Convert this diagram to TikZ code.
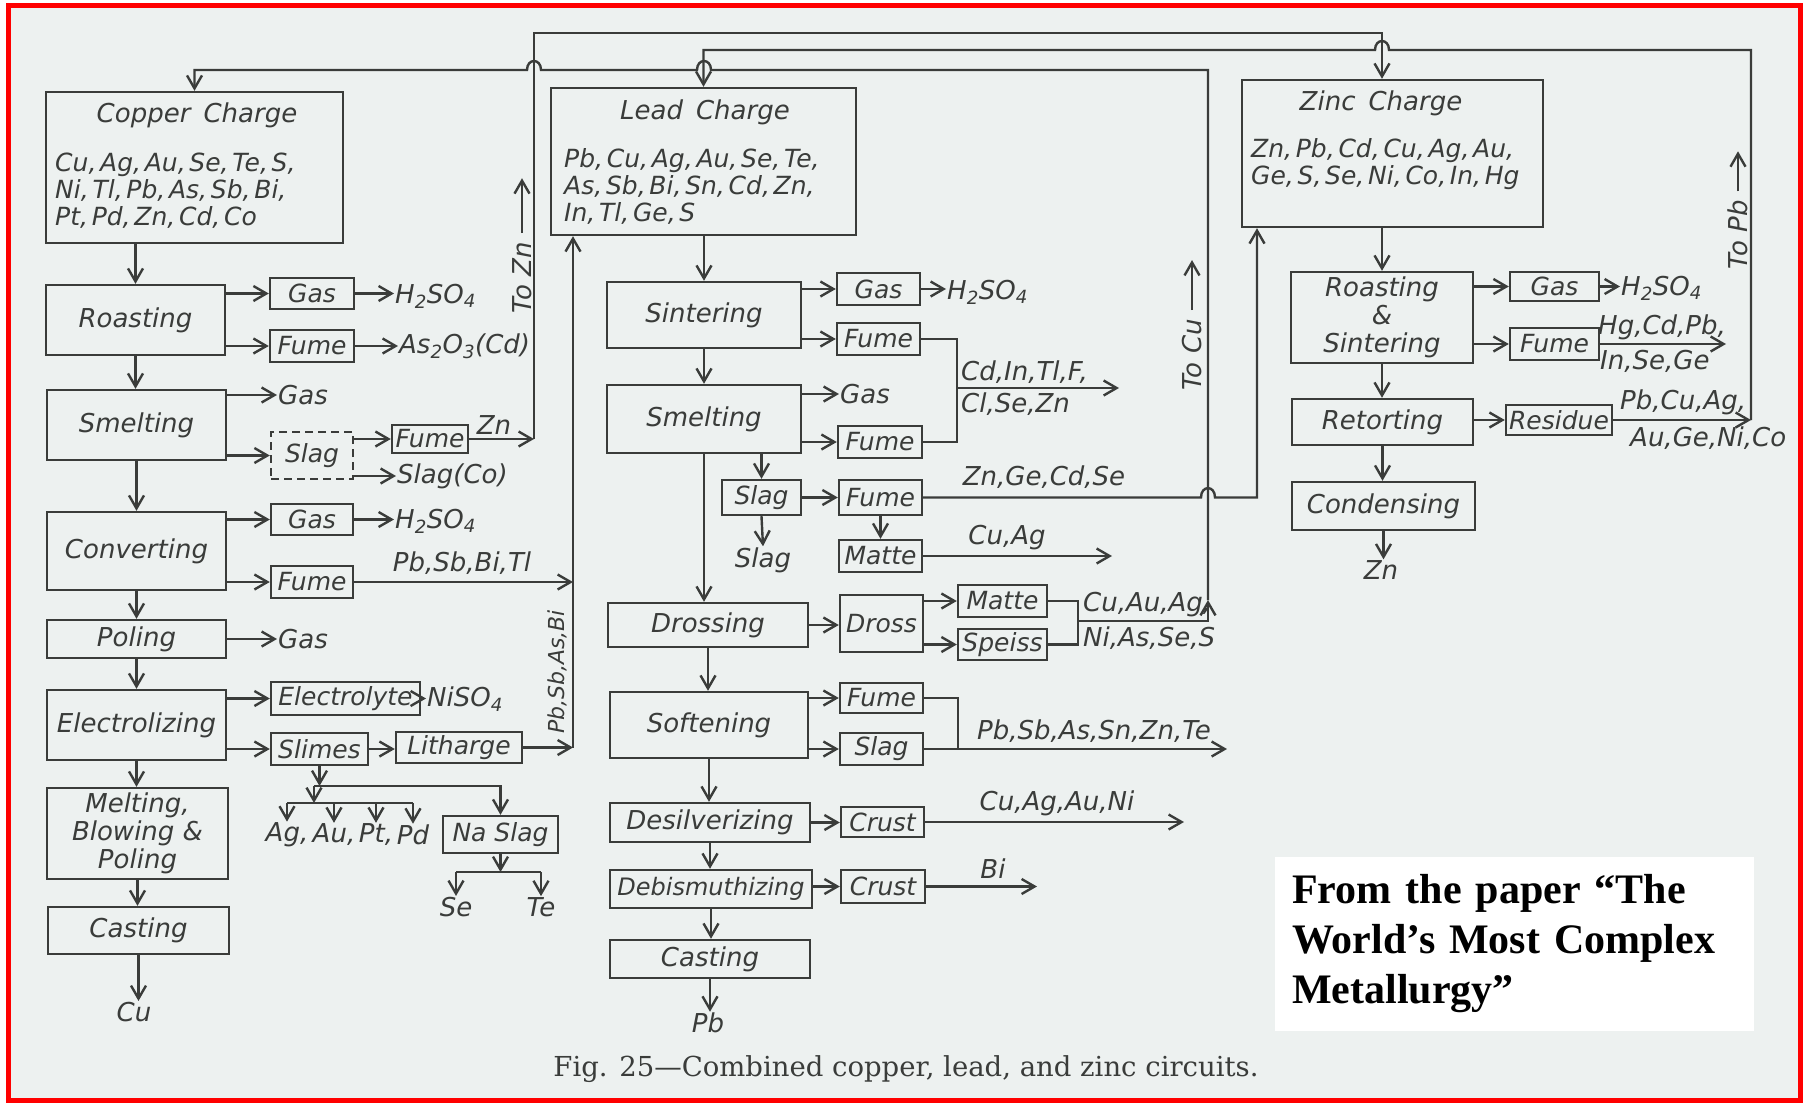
\documentclass[tikz,border=0pt]{standalone}
\usepackage{xcolor}
\usepackage{fontspec}
\usepackage{tikz}
\usetikzlibrary{arrows.meta, calc}
\newfontfamily\letterfont{DejaVu Sans}
\newfontfamily\captionfont{DejaVu Serif}
\newfontfamily\notefont{Liberation Serif}
\definecolor{myink}{RGB}{58,60,58}
\definecolor{mypaper}{RGB}{237,241,240}
\definecolor{myred}{RGB}{255,0,0}
\tikzset{
  block/.style={rectangle, draw=myink, line width=2.4pt, inner sep=0pt,
    align=center, text=myink, font=\letterfont\itshape\fontsize{26}{28}\selectfont},
  sidebox/.style={block, font=\letterfont\itshape\fontsize{25}{27}\selectfont},
  dashblock/.style={sidebox, dash pattern=on 8pt off 5pt},
  lbl/.style={inner sep=1pt, text=myink, font=\letterfont\itshape\fontsize{26}{28}\selectfont},
  listlbl/.style={lbl, align=left, font=\letterfont\itshape\fontsize{25}{27}\selectfont,
    execute at begin node={\spaceskip=0.15em\relax}},
  arrow/.style={-{Straight Barb[length=13pt,width=15pt]}, line width=2.4pt, color=myink},
  line/.style={line width=2.4pt, color=myink}
}
\begin{document}
\begin{tikzpicture}[x=1pt, y=-1pt]
  % Page and frame
  \useasboundingbox (0,0) rectangle (1805,1103);
  \fill[mypaper] (8,5) rectangle (1800,1100);
  \draw[myred, line width=5pt] (8,5) rectangle (1800,1100);

  % Copper circuit
  \node[block, minimum width=297pt, minimum height=151pt] (cuCharge) at (194.5,167.5) {};
  \node[lbl] (cuTitle) at (197,115) {Copper\enspace Charge};
  \node[listlbl, anchor=west] (cuList) at (54,191) {Cu, Ag, Au, Se, Te, S,\\Ni, Tl, Pb, As, Sb, Bi,\\Pt, Pd, Zn, Cd, Co};
  \node[block, minimum width=179pt, minimum height=70pt] (cuRoast) at (135.5,320) {Roasting};
  \node[sidebox, minimum width=84pt, minimum height=31pt] (cuRoastGas) at (312,293.5) {Gas};
  \node[sidebox, minimum width=84pt, minimum height=32pt] (cuRoastFume) at (312,346) {Fume};
  \node[lbl, anchor=west] (cuRoastAcid) at (394,296) {H\textsubscript{2}SO\textsubscript{4}};
  \node[lbl, anchor=west] (cuRoastAs) at (398,346) {As\textsubscript{2}O\textsubscript{3}(Cd)};
  \node[lbl, rotate=90] (toZn) at (522,278) {To Zn};
  \node[block, minimum width=179pt, minimum height=70pt] (cuSmelt) at (136.5,425) {Smelting};
  \node[lbl, anchor=west] (cuSmeltGas) at (277,395) {Gas};
  \node[dashblock, minimum width=82pt, minimum height=47pt] (cuSlag) at (312,455.5) {Slag};
  \node[sidebox, minimum width=76pt, minimum height=28pt] (cuSlagFume) at (430,439) {Fume};
  \node[lbl] (cuZn) at (494,425) {Zn};
  \node[lbl, anchor=west] (cuSlagCo) at (396,476) {Slag(Co)};
  \node[block, minimum width=179pt, minimum height=78pt] (cuConvert) at (136.5,551) {Converting};
  \node[sidebox, minimum width=82pt, minimum height=31pt] (cuConvGas) at (312,519.5) {Gas};
  \node[sidebox, minimum width=82pt, minimum height=32pt] (cuConvFume) at (312,582) {Fume};
  \node[lbl, anchor=west] (cuConvAcid) at (394,521) {H\textsubscript{2}SO\textsubscript{4}};
  \node[lbl] (cuConvOut) at (462,563) {Pb,Sb,Bi,Tl};
  \node[block, minimum width=179pt, minimum height=38pt] (cuPoling) at (136.5,639) {Poling};
  \node[lbl, anchor=west] (cuPolingGas) at (277,639) {Gas};
  \node[block, minimum width=179pt, minimum height=70pt] (cuElectro) at (136.5,725) {Electrolizing};
  \node[sidebox, minimum width=149pt, minimum height=33pt] (cuElectrolyte) at (345.5,698.5) {Electrolyte};
  \node[lbl, anchor=west] (cuNiSO) at (426,699) {NiSO\textsubscript{4}};
  \node[sidebox, minimum width=97pt, minimum height=32pt] (cuSlimes) at (319.5,749) {Slimes};
  \node[sidebox, minimum width=126pt, minimum height=31pt] (cuLitharge) at (459,747.5) {Litharge};
  \node[lbl, rotate=90, font=\letterfont\itshape\fontsize{22}{24}\selectfont] (cuLithOut) at (557,672) {Pb,Sb,As,Bi};
  \node[block, minimum width=181pt, minimum height=91pt] (cuMelt) at (137.5,833.5) {Melting,\\Blowing \&\\Poling};
  \node[block, minimum width=181pt, minimum height=47pt] (cuCast) at (138.5,930.5) {Casting};
  \node[lbl] (cuCopper) at (134,1012) {Cu};
  \node[lbl] (cuAg) at (287,835) {Ag,};
  \node[lbl] (cuAu) at (334,835) {Au,};
  \node[lbl] (cuPt) at (376,835) {Pt,};
  \node[lbl] (cuPd) at (413,835) {Pd};
  \node[sidebox, minimum width=115pt, minimum height=37pt] (cuNaSlag) at (500.5,834.5) {Na Slag};
  \node[lbl] (cuSe) at (456,907) {Se};
  \node[lbl] (cuTe) at (541,907) {Te};
  \coordinate (zincLine) at (534,439);
  \coordinate (pbRise) at (573,747.5);
  \coordinate (slimesForkA) at (314,786);
  \coordinate (slimesForkB) at (314,803);
  \coordinate (naFork) at (500.5,872);

  \draw[arrow] (cuCharge.south -| cuRoast.north) -- (cuRoast.north);
  \draw[arrow] (cuRoast.east |- cuRoastGas.west) -- (cuRoastGas.west);
  \draw[arrow] (cuRoast.east |- cuRoastFume.west) -- (cuRoastFume.west);
  \draw[arrow] (cuRoastGas.east) -- (cuRoastGas.east -| cuRoastAcid.west);
  \draw[arrow] (cuRoastFume.east) -- (cuRoastFume.east -| cuRoastAs.west);
  \draw[arrow] ([yshift=8pt]toZn.east) -- ++(0,-55);
  \draw[arrow] (cuRoast.south) -- (cuRoast.south |- cuSmelt.north);
  \draw[arrow] (cuSmelt.east |- cuSmeltGas.west) -- (cuSmeltGas.west);
  \draw[arrow] (cuSmelt.east |- cuSlag.west) -- (cuSlag.west);
  \draw[arrow] (cuSlag.east |- cuSlagFume.west) -- (cuSlagFume.west);
  \draw[arrow] (cuSlag.east |- cuSlagCo.west) -- (cuSlagCo.west);
  \draw[arrow] (cuSlagFume.east) -- (zincLine);
  \draw[arrow] (cuSmelt.south) -- (cuSmelt.south |- cuConvert.north);
  \draw[arrow] (cuConvert.east |- cuConvGas.west) -- (cuConvGas.west);
  \draw[arrow] (cuConvert.east |- cuConvFume.west) -- (cuConvFume.west);
  \draw[arrow] (cuConvGas.east) -- (cuConvGas.east -| cuConvAcid.west);
  \draw[arrow] (cuConvFume.east) -- (cuConvFume.east -| pbRise);
  \draw[arrow] (cuConvert.south) -- (cuConvert.south |- cuPoling.north);
  \draw[arrow] (cuPoling.east) -- (cuPoling.east -| cuPolingGas.west);
  \draw[arrow] (cuPoling.south) -- (cuPoling.south |- cuElectro.north);
  \draw[arrow] (cuElectro.east |- cuElectrolyte.west) -- (cuElectrolyte.west);
  \draw[arrow] (cuElectro.east |- cuSlimes.west) -- (cuSlimes.west);
  \draw[arrow] (cuElectrolyte.east) -- (cuElectrolyte.east -| cuNiSO.west);
  \draw[arrow] (cuSlimes.east) -- (cuSlimes.east -| cuLitharge.west);
  \draw[arrow] (cuLitharge.east) -- (pbRise);
  \draw[arrow] (cuElectro.south) -- (cuElectro.south |- cuMelt.north);
  \draw[arrow] (cuMelt.south) -- (cuMelt.south |- cuCast.north);
  \draw[arrow] (cuCast.south) -- (cuCast.south |- cuCopper.north);
  % Slimes and soda slag splits
  \draw[arrow] (cuSlimes.south) -- (cuSlimes.south |- slimesForkA);
  \draw[arrow] (slimesForkA) -| (cuNaSlag.north);
  \draw[arrow] (slimesForkA) -- (slimesForkB);
  \draw[line] (slimesForkB -| cuAg.north) -- (slimesForkB -| cuPd.north);
  \foreach \m in {cuAg,cuAu,cuPt,cuPd}
    \draw[arrow] (slimesForkB -| \m.north) -- (\m.north);
  \draw[arrow] (cuNaSlag.south) -- (naFork);
  \draw[line] (naFork -| cuSe.north) -- (naFork -| cuTe.north);
  \foreach \m in {cuSe,cuTe}
    \draw[arrow] (naFork -| \m.north) -- (\m.north);

  % Lead circuit
  \node[block, minimum width=305pt, minimum height=147pt] (pbCharge) at (703.5,161.5) {};
  \node[lbl] (pbTitle) at (705,112) {Lead\enspace Charge};
  \node[listlbl, anchor=west] (pbList) at (563,186) {Pb, Cu, Ag, Au, Se, Te,\\As, Sb, Bi, Sn, Cd, Zn,\\In, Tl, Ge, S};
  \node[block, minimum width=194pt, minimum height=66pt] (pbSinter) at (704,315) {Sintering};
  \node[sidebox, minimum width=83pt, minimum height=32pt] (pbSintGas) at (878.5,289) {Gas};
  \node[sidebox, minimum width=83pt, minimum height=32pt] (pbSintFume) at (878.5,339) {Fume};
  \node[lbl, anchor=west] (pbSintAcid) at (946,292) {H\textsubscript{2}SO\textsubscript{4}};
  \node[block, minimum width=194pt, minimum height=68pt] (pbSmelt) at (704,419) {Smelting};
  \node[lbl, anchor=west] (pbSmeltGas) at (839,394) {Gas};
  \node[sidebox, minimum width=84pt, minimum height=32pt] (pbSmeltFume) at (880,442) {Fume};
  \node[lbl, anchor=west] (pbFumeUp) at (960,372) {Cd,In,Tl,F,};
  \node[lbl, anchor=west] (pbFumeDn) at (960,404) {Cl,Se,Zn};
  \node[sidebox, minimum width=79pt, minimum height=35pt] (pbSlag) at (761.5,497.5) {Slag};
  \node[sidebox, minimum width=83pt, minimum height=35pt] (pbSlagFume) at (880.5,497.5) {Fume};
  \node[lbl] (pbSlagOut) at (763,560) {Slag};
  \node[lbl] (pbZnGe) at (1044,477) {Zn,Ge,Cd,Se};
  \node[sidebox, minimum width=83pt, minimum height=32pt] (pbMatte) at (880.5,556) {Matte};
  \node[lbl] (pbMatteOut) at (1007,538) {Cu,Ag};
  \node[block, minimum width=200pt, minimum height=44pt] (pbDrossing) at (708,625) {Drossing};
  \node[sidebox, minimum width=83pt, minimum height=57pt] (pbDross) at (881.5,623.5) {Dross};
  \node[sidebox, minimum width=89pt, minimum height=32pt] (pbMatteB) at (1002.5,601) {Matte};
  \node[sidebox, minimum width=89pt, minimum height=31pt] (pbSpeiss) at (1002.5,644.5) {Speiss};
  \node[lbl, anchor=west] (pbDrossUp) at (1082,605) {Cu,Au,Ag,};
  \node[lbl, anchor=west] (pbDrossDn) at (1082,638) {Ni,As,Se,S};
  \node[block, minimum width=198pt, minimum height=66pt] (pbSoften) at (709,725) {Softening};
  \node[sidebox, minimum width=83pt, minimum height=30pt] (pbSoftFume) at (881.5,698) {Fume};
  \node[sidebox, minimum width=83pt, minimum height=32pt] (pbSoftSlag) at (881.5,749) {Slag};
  \node[lbl] (pbSoftOut) at (1094,731) {Pb,Sb,As,Sn,Zn,Te};
  \node[block, minimum width=200pt, minimum height=39pt] (pbDesilv) at (710,822.5) {Desilverizing};
  \node[sidebox, minimum width=83pt, minimum height=30pt] (pbDesilvCrust) at (882.5,822) {Crust};
  \node[lbl] (pbDesilvOut) at (1057,803) {Cu,Ag,Au,Ni};
  \node[block, minimum width=202pt, minimum height=38pt, font=\letterfont\itshape\fontsize{24}{26}\selectfont] (pbDebism) at (711,889) {Debismuthizing};
  \node[sidebox, minimum width=84pt, minimum height=33pt] (pbDebismCrust) at (883,886.5) {Crust};
  \node[lbl] (pbDebismOut) at (993,869) {Bi};
  \node[block, minimum width=200pt, minimum height=38pt] (pbCast) at (710,959) {Casting};
  \node[lbl] (pbLead) at (708,1023) {Pb};
  \node[lbl, rotate=90] (toCu) at (1192,355) {To Cu};
  \coordinate (pbFumeJoin) at (957,388);
  \coordinate (pbFumeEnd) at (1119,388);
  \coordinate (pbMatteEnd) at (1112,556);
  \coordinate (drossJoin) at (1078,621);
  \coordinate (copperLine) at (1208,600);
  \coordinate (pbSoftJoin) at (958,749);
  \coordinate (pbSoftEnd) at (1227,749);
  \coordinate (pbDesilvEnd) at (1184,822);
  \coordinate (pbDebismEnd) at (1037,886.5);
  \coordinate (zincRise) at (1257,497.5);

  \draw[arrow] (pbRise) -- (pbRise |- pbCharge.south);
  \draw[arrow] (pbSinter.north |- pbCharge.south) -- (pbSinter.north);
  \draw[arrow] (pbSinter.east |- pbSintGas.west) -- (pbSintGas.west);
  \draw[arrow] (pbSinter.east |- pbSintFume.west) -- (pbSintFume.west);
  \draw[arrow] (pbSintGas.east) -- (pbSintGas.east -| pbSintAcid.west);
  \draw[arrow] (pbSinter.south) -- (pbSinter.south |- pbSmelt.north);
  \draw[arrow] (pbSmelt.east |- pbSmeltGas.west) -- (pbSmeltGas.west);
  \draw[arrow] (pbSmelt.east |- pbSmeltFume.west) -- (pbSmeltFume.west);
  \draw[line] (pbSintFume.east) -| (pbFumeJoin) |- (pbSmeltFume.east);
  \draw[arrow] (pbFumeJoin) -- (pbFumeEnd);
  \draw[arrow] (pbSmelt.south -| pbSlag.north) -- (pbSlag.north);
  \draw[arrow] (pbSlag.east) -- (pbSlag.east -| pbSlagFume.west);
  \draw[arrow] (pbSlag.south) -- (pbSlagOut.north);
  \draw[arrow] (pbSlagFume.south) -- (pbMatte.north);
  \draw[arrow] (pbMatte.east) -- (pbMatteEnd);
  \draw[arrow] (pbSmelt.south) -- (pbSmelt.south |- pbDrossing.north);
  \draw[arrow] (pbDrossing.east) -- (pbDrossing.east -| pbDross.west);
  \draw[arrow] (pbDross.east |- pbMatteB.west) -- (pbMatteB.west);
  \draw[arrow] (pbDross.east |- pbSpeiss.west) -- (pbSpeiss.west);
  \draw[line] (pbMatteB.east) -| (drossJoin) |- (pbSpeiss.east);
  \draw[arrow] (drossJoin) -| (copperLine);
  \draw[arrow] ([yshift=8pt]toCu.east) -- ++(0,-50);
  \draw[arrow] (pbDrossing.south) -- (pbDrossing.south |- pbSoften.north);
  \draw[arrow] (pbSoften.east |- pbSoftFume.west) -- (pbSoftFume.west);
  \draw[arrow] (pbSoften.east |- pbSoftSlag.west) -- (pbSoftSlag.west);
  \draw[line] (pbSoftFume.east) -| (pbSoftJoin);
  \draw[arrow] (pbSoftSlag.east) -- (pbSoftEnd);
  \draw[arrow] (pbSoften.south) -- (pbSoften.south |- pbDesilv.north);
  \draw[arrow] (pbDesilv.east) -- (pbDesilv.east -| pbDesilvCrust.west);
  \draw[arrow] (pbDesilvCrust.east) -- (pbDesilvEnd);
  \draw[arrow] (pbDesilv.south) -- (pbDesilv.south |- pbDebism.north);
  \draw[arrow] (pbDebism.east |- pbDebismCrust.west) -- (pbDebismCrust.west);
  \draw[arrow] (pbDebismCrust.east) -- (pbDebismEnd);
  \draw[arrow] (pbDebism.south) -- (pbDebism.south |- pbCast.north);
  \draw[arrow] (pbCast.south) -- (pbCast.south |- pbLead.north);

  % Zinc circuit
  \node[block, minimum width=301pt, minimum height=147pt] (znCharge) at (1392.5,153.5) {};
  \node[lbl] (znTitle) at (1381,103) {Zinc\enspace Charge};
  \node[listlbl, anchor=west] (znList) at (1250,164) {Zn, Pb, Cd, Cu, Ag, Au,\\Ge, S, Se, Ni, Co, In, Hg};
  \node[block, minimum width=182pt, minimum height=91pt] (znRoast) at (1382,317.5) {Roasting\\\&\\Sintering};
  \node[sidebox, minimum width=89pt, minimum height=29pt] (znGas) at (1554.5,286.5) {Gas};
  \node[sidebox, minimum width=89pt, minimum height=32pt] (znFume) at (1554.5,344) {Fume};
  \node[lbl, anchor=west] (znAcid) at (1620,288) {H\textsubscript{2}SO\textsubscript{4}};
  \node[lbl, anchor=west] (znFumeUp) at (1597,327) {Hg,Cd,Pb,};
  \node[lbl, anchor=west] (znFumeDn) at (1599,361) {In,Se,Ge};
  \node[block, minimum width=181pt, minimum height=46pt] (znRetort) at (1382.5,422) {Retorting};
  \node[sidebox, minimum width=106pt, minimum height=30pt] (znResidue) at (1559,420) {Residue};
  \node[lbl, anchor=west] (znResUp) at (1619,402) {Pb,Cu,Ag,};
  \node[lbl, anchor=west] (znResDn) at (1629,438) {Au,Ge,Ni,Co};
  \node[block, minimum width=183pt, minimum height=48pt] (znCondense) at (1383.5,506) {Condensing};
  \node[lbl] (znZinc) at (1381,570) {Zn};
  \node[lbl, rotate=90] (toPb) at (1738,235) {To Pb};
  \coordinate (znFumeEnd) at (1726,344);
  \coordinate (leadLine) at (1751,420);

  \draw[arrow] (znCharge.south -| znRoast.north) -- (znRoast.north);
  \draw[arrow] (znRoast.east |- znGas.west) -- (znGas.west);
  \draw[arrow] (znRoast.east |- znFume.west) -- (znFume.west);
  \draw[arrow] (znGas.east) -- (znGas.east -| znAcid.west);
  \draw[arrow] (znFume.east) -- (znFumeEnd);
  \draw[arrow] (znRoast.south) -- (znRoast.south |- znRetort.north);
  \draw[arrow] (znRetort.east |- znResidue.west) -- (znResidue.west);
  \draw[arrow] (znResidue.east) -- (leadLine);
  \draw[arrow] (znRetort.south) -- (znRetort.south |- znCondense.north);
  \draw[arrow] (znCondense.south) -- (znCondense.south |- znZinc.north);
  \draw[arrow] ([yshift=8pt]toPb.east) -- ++(0,-40);

  % Return lines between circuits
  \draw[arrow] (pbSlagFume.east) -- (1201,497.5) .. controls (1201,485) and (1215,485) .. (1215,497.5)
    -- (zincRise) -- (zincRise |- znCharge.south);
  \draw[arrow] (zincLine) -- (zincLine |- 0,33) -| (znCharge.north -| znRoast.north);
  \draw[arrow] (leadLine) -- (leadLine |- 0,50) -- (1389,50) .. controls (1389,38) and (1375,38) .. (1375,50)
    -| (pbCharge.north);
  \draw[arrow] (copperLine) -- (copperLine |- 0,70) -- (711,70) .. controls (711,58) and (697,58) .. (697,70)
    -- (541,70) .. controls (541,58) and (527,58) .. (527,70) -| (cuCharge.north);

  % Caption and note
  \node[text=myink, font=\captionfont\fontsize{27.5}{30}\selectfont] (figCaption) at (906,1069)
    {Fig. 25—Combined copper, lead, and zinc circuits.};
  \node[fill=white, anchor=west, minimum height=174pt, text width=445pt, inner xsep=17pt,
    align=left, font=\notefont\bfseries\fontsize{42}{50}\selectfont] (paperNote) at (1275,944)
    {From the paper “The\\World’s Most Complex\\Metallurgy”};
\end{tikzpicture}
\end{document}
